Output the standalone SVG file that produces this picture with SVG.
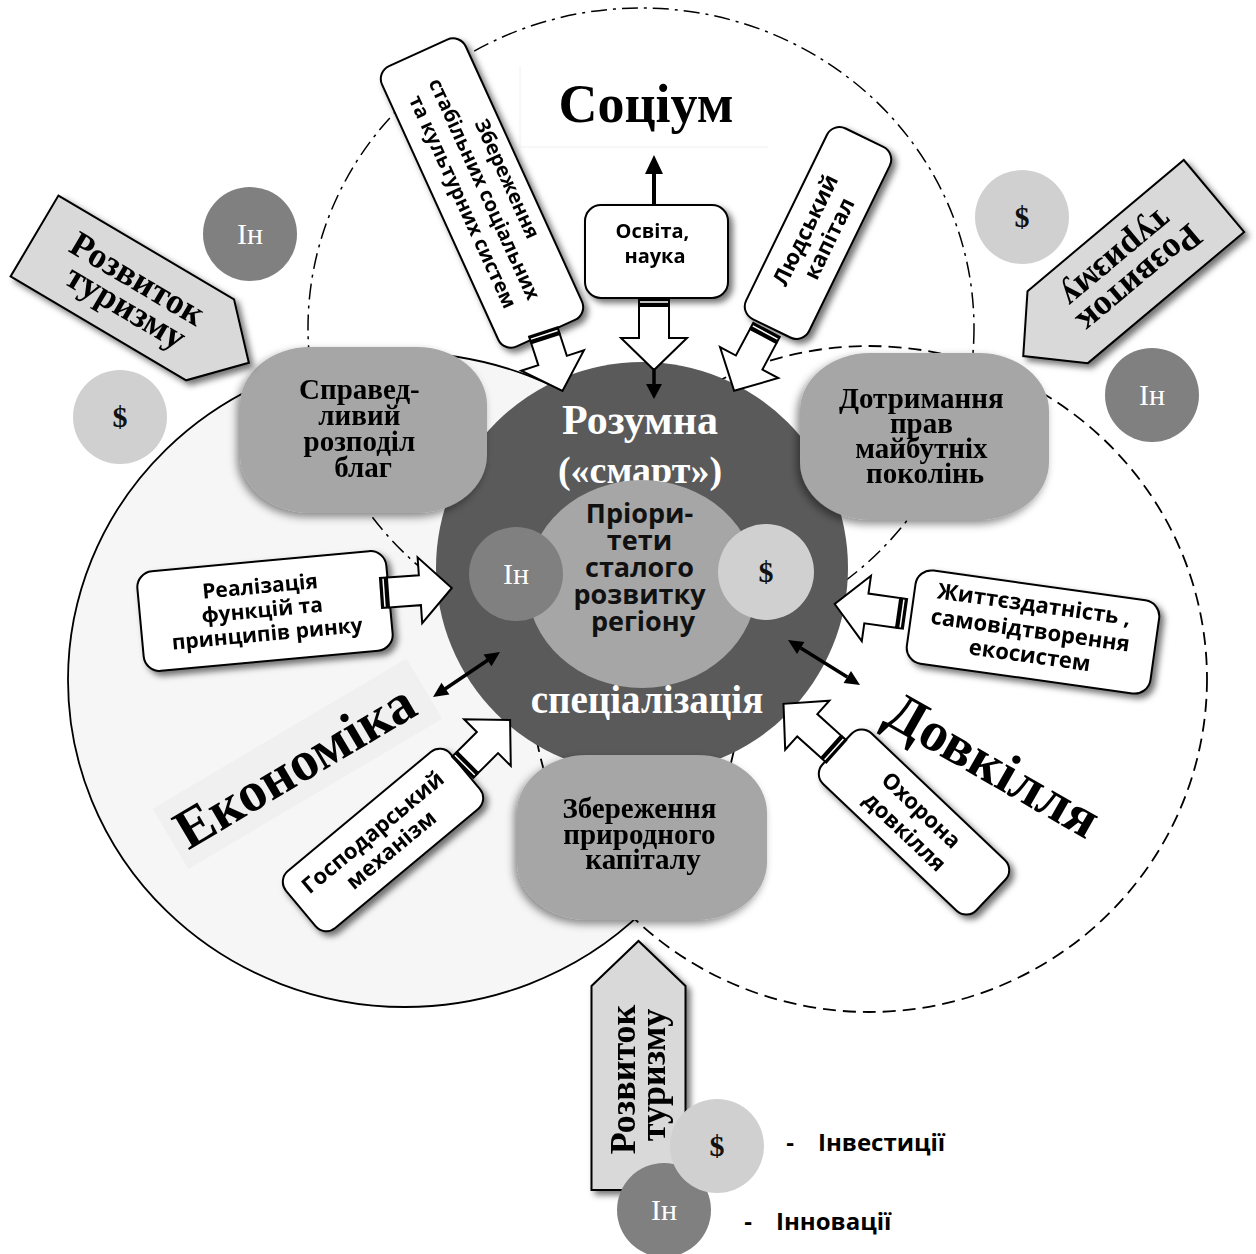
<svg xmlns="http://www.w3.org/2000/svg" width="1256" height="1254" viewBox="0 0 1256 1254">
<defs>
<style>
.sans{font-family:"Open Sans","DejaVu Sans",sans-serif;font-weight:700;}
.serif{font-family:"Liberation Serif","Times New Roman",serif;font-weight:700;}
.serifr{font-family:"Liberation Serif","Times New Roman",serif;font-weight:400;}
.wb{fill:#fff;stroke:#000;stroke-width:2;}
.gb{fill:#a6a6a6;}
.gt{font-size:29px;}
.ha{fill:#fff;stroke:#000;stroke-width:2;stroke-linejoin:miter;}
.ta{fill:#d9d9d9;stroke:#000;stroke-width:2;}
.cin{fill:#808080;}
.cdol{fill:#d0d0d0;}
.tin{fill:#fff;font-size:30px;}
.tdol{fill:#111;font-size:30px;}
</style>
<filter id="sw" x="-20%" y="-20%" width="150%" height="150%">
<feDropShadow dx="4" dy="4" stdDeviation="3" flood-color="#000" flood-opacity="0.55"/>
</filter>
<filter id="sg" x="-20%" y="-20%" width="150%" height="150%">
<feDropShadow dx="-3" dy="4" stdDeviation="4" flood-color="#000" flood-opacity="0.45"/>
</filter>
</defs>
<rect x="0" y="0" width="1256" height="1254" fill="#fff"/>

<g id="regions">
<ellipse id="economy-region" cx="405" cy="680" rx="337" ry="327" fill="#f6f6f6" stroke="#000" stroke-width="1.8"/>
<rect x="-147" y="-35" width="295" height="70" fill="#f0f0f0" transform="translate(297,764) rotate(-30.6)"/>
<ellipse id="society-region" cx="641" cy="328" rx="333" ry="320" fill="none" stroke="#000" stroke-width="1.5" stroke-dasharray="16 6 3 6"/>
<ellipse id="environment-region" cx="869" cy="679" rx="338" ry="333" fill="none" stroke="#000" stroke-width="1.8" stroke-dasharray="13 7"/>
<path d="M520,66 V147 H768" fill="none" stroke="#f0f0f0" stroke-width="1"/>
<text x="646" y="122" class="serif" font-size="54" text-anchor="middle">Соціум</text>
<text class="serif" font-size="56" text-anchor="middle" transform="translate(304,782) rotate(-30.6)">Економіка</text>
<text class="serif" font-size="56" text-anchor="middle" transform="translate(984,781) rotate(29.8)">Довкілля</text>
</g>

<g id="center">
<circle cx="642" cy="568" r="206" fill="#5a5a5a"/>
<text x="640" y="434" class="serif" font-size="42" fill="#fff" text-anchor="middle">Розумна</text>
<text x="640" y="483" class="serif" font-size="38" fill="#fff" text-anchor="middle">(«смарт»)</text>
<ellipse cx="642" cy="584" rx="115" ry="104" fill="#a6a6a6"/>
<text class="sans" font-size="27" text-anchor="middle" fill="#111">
<tspan x="643" y="523">Пріори-</tspan>
<tspan x="643" y="550">тети</tspan>
<tspan x="643" y="577">сталого</tspan>
<tspan x="643" y="604">розвитку</tspan>
<tspan x="643" y="631">регіону</tspan>
</text>
<circle cx="516" cy="574" r="47" class="cin"/>
<text x="516" y="584" class="serifr tin" text-anchor="middle">Ін</text>
<circle cx="766" cy="572" r="48" class="cdol"/>
<text x="766" y="582" class="serif tdol" text-anchor="middle">$</text>
<text x="647" y="713" class="serif" font-size="39" fill="#fff" text-anchor="middle">спеціалізація</text>
</g>

<g id="n-fair" filter="url(#sg)">
<rect x="240" y="347" width="247" height="166" rx="70" ry="58" class="gb"/>
<text class="serif gt" text-anchor="middle">
<tspan x="363" y="399">Справед-</tspan>
<tspan x="363" y="425">ливий</tspan>
<tspan x="363" y="451">розподіл</tspan>
<tspan x="363" y="477">благ</tspan>
</text>
</g>

<g id="n-future" filter="url(#sg)">
<rect x="800" y="353" width="249" height="167" rx="70" ry="58" class="gb"/>
<text class="serif gt" text-anchor="middle">
<tspan x="925" y="408">Дотримання</tspan>
<tspan x="925" y="433">прав</tspan>
<tspan x="925" y="458">майбутніх</tspan>
<tspan x="925" y="483">поколінь</tspan>
</text>
</g>

<g id="n-natural" filter="url(#sg)">
<rect x="517" y="755" width="250" height="165" rx="70" ry="58" class="gb"/>
<text class="serif gt" text-anchor="middle">
<tspan x="643" y="818">Збереження</tspan>
<tspan x="643" y="844">природного</tspan>
<tspan x="643" y="869">капіталу</tspan>
</text>
</g>

<g id="n-soc-systems" filter="url(#sw)">
<g transform="translate(482,193) rotate(65.5)">
<rect class="wb" x="-154" y="-46" width="308" height="92" rx="14"/>
<text class="sans" font-size="20" text-anchor="middle">
<tspan x="0" y="-22">Збереження</tspan>
<tspan x="0" y="3">стабільних соціальних</tspan>
<tspan x="0" y="28">та культурних систем</tspan>
</text>
</g>
</g>

<g id="n-education" filter="url(#sw)">
<rect class="wb" x="585" y="205" width="143" height="93" rx="16"/>
<text class="sans" font-size="20" text-anchor="middle">
<tspan x="655" y="238">Освіта,</tspan>
<tspan x="655" y="263">наука</tspan>
</text>
</g>

<g id="n-human" filter="url(#sw)">
<g transform="translate(818,233) rotate(-64)">
<rect class="wb" x="-106" y="-35" width="212" height="70" rx="14"/>
<text class="sans" font-size="22" text-anchor="middle">
<tspan x="0" y="-5">Людський</tspan>
<tspan x="0" y="20">капітал</tspan>
</text>
</g>
</g>

<g id="n-market" filter="url(#sw)">
<g transform="translate(265,611) rotate(-5.3)">
<rect class="wb" x="-125" y="-50" width="250" height="100" rx="16"/>
<text class="sans" font-size="21" text-anchor="middle">
<tspan x="0" y="-18">Реалізація</tspan>
<tspan x="0" y="6">функцій та</tspan>
<tspan x="0" y="30">принципів ринку</tspan>
</text>
</g>
</g>

<g id="n-mechanism" filter="url(#sw)">
<g transform="translate(383,840) rotate(-39.8)">
<rect class="wb" x="-107" y="-37" width="214" height="74" rx="14"/>
<text class="sans" font-size="22" text-anchor="middle">
<tspan x="0" y="-5">Господарський</tspan>
<tspan x="0" y="20">механізм</tspan>
</text>
</g>
</g>

<g id="n-ecosystems" filter="url(#sw)">
<g transform="translate(1033,632) rotate(8)">
<rect class="wb" x="-123" y="-47" width="246" height="94" rx="16"/>
<text class="sans" font-size="22" text-anchor="middle">
<tspan x="0" y="-20">Життєздатність ,</tspan>
<tspan x="0" y="6">самовідтворення</tspan>
<tspan x="0" y="31">екосистем</tspan>
</text>
</g>
</g>

<g id="n-protection" filter="url(#sw)">
<g transform="translate(914,822) rotate(43.5)">
<rect class="wb" x="-106" y="-35" width="212" height="70" rx="14"/>
<text class="sans" font-size="22" text-anchor="middle">
<tspan x="0" y="-6">Охорона</tspan>
<tspan x="0" y="21">довкілля</tspan>
</text>
</g>
</g>

<g id="n-tourism-left" filter="url(#sw)">
<g transform="translate(34.5,236) rotate(30.6)">
<polygon class="ta" points="0,-47 204,-47 249,0 204,47 0,47"/>
<text class="serif" font-size="36" text-anchor="middle">
<tspan x="115" y="-4">Розвиток</tspan>
<tspan x="115" y="26">туризму</tspan>
</text>
</g>
</g>

<g id="n-tourism-right" filter="url(#sw)">
<g transform="translate(1214,196) rotate(140)">
<polygon class="ta" points="0,-47 204,-47 249,0 204,47 0,47"/>
<text class="serif" font-size="36" text-anchor="middle">
<tspan x="115" y="-4">Розвиток</tspan>
<tspan x="115" y="26">туризму</tspan>
</text>
</g>
</g>

<g id="n-tourism-bottom" filter="url(#sw)">
<g transform="translate(638.5,1190) rotate(-90)">
<polygon class="ta" points="0,-47 204,-47 249,0 204,47 0,47"/>
<text class="serif" font-size="36" text-anchor="middle">
<tspan x="115" y="-4">Розвиток</tspan>
<tspan x="115" y="26">туризму</tspan>
</text>
</g>
</g>

<g id="n-resources">
<circle cx="250" cy="234" r="47" class="cin"/>
<text x="250" y="244" class="serifr tin" text-anchor="middle">Ін</text>
<circle cx="120" cy="417" r="47" class="cdol"/>
<text x="120" y="427" class="serif tdol" text-anchor="middle">$</text>
<circle cx="1022" cy="217" r="47" class="cdol"/>
<text x="1022" y="227" class="serif tdol" text-anchor="middle">$</text>
<circle cx="1152" cy="395" r="47" class="cin"/>
<text x="1152" y="405" class="serifr tin" text-anchor="middle">Ін</text>
</g>

<g id="legend">
<circle cx="664" cy="1210" r="47" class="cin"/>
<text x="664" y="1220" class="serifr tin" text-anchor="middle">Ін</text>
<circle cx="717" cy="1146" r="47" class="cdol"/>
<text x="717" y="1156" class="serif tdol" text-anchor="middle">$</text>
<text x="790" y="1151" class="sans" font-size="24" text-anchor="middle">-</text>
<text x="818" y="1151" class="sans" font-size="24">Інвестиції</text>
<text x="748" y="1230" class="sans" font-size="24" text-anchor="middle">-</text>
<text x="776" y="1230" class="sans" font-size="24">Інновації</text>
</g>

<g id="connectors">
<g transform="translate(543,331) rotate(72)">
<path class="ha" d="M8,-15 H31 V-33 L63,0 L31,33 V15 H8 Z"/>
<rect x="0" y="-16" width="8" height="32" fill="#000"/><line x1="4" y1="-14" x2="4" y2="14" stroke="#fff" stroke-width="1.5"/>
</g>
<g transform="translate(654,298) rotate(90)">
<path class="ha" d="M8,-15 H40 V-33 L72,0 L40,33 V15 H8 Z"/>
<rect x="0" y="-16" width="8" height="32" fill="#000"/><line x1="4" y1="-14" x2="4" y2="14" stroke="#fff" stroke-width="1.5"/>
</g>
<g transform="translate(767,329) rotate(118)">
<path class="ha" d="M8,-15 H38 V-33 L70,0 L38,33 V15 H8 Z"/>
<rect x="0" y="-16" width="8" height="32" fill="#000"/><line x1="4" y1="-14" x2="4" y2="14" stroke="#fff" stroke-width="1.5"/>
</g>
<g transform="translate(380,593) rotate(-4)">
<path class="ha" d="M8,-15 H40 V-33 L72,0 L40,33 V15 H8 Z"/>
<rect x="0" y="-16" width="8" height="32" fill="#000"/><line x1="4" y1="-14" x2="4" y2="14" stroke="#fff" stroke-width="1.5"/>
</g>
<g transform="translate(462,768) rotate(-45)">
<path class="ha" d="M8,-15 H36 V-33 L68,0 L36,33 V15 H8 Z"/>
<rect x="0" y="-16" width="8" height="32" fill="#000"/><line x1="4" y1="-14" x2="4" y2="14" stroke="#fff" stroke-width="1.5"/>
</g>
<g transform="translate(906,614) rotate(188)">
<path class="ha" d="M8,-15 H40 V-33 L72,0 L40,33 V15 H8 Z"/>
<rect x="0" y="-16" width="8" height="32" fill="#000"/><line x1="4" y1="-14" x2="4" y2="14" stroke="#fff" stroke-width="1.5"/>
</g>
<g transform="translate(837,752) rotate(222)">
<path class="ha" d="M8,-15 H40 V-33 L72,0 L40,33 V15 H8 Z"/>
<rect x="0" y="-16" width="8" height="32" fill="#000"/><line x1="4" y1="-14" x2="4" y2="14" stroke="#fff" stroke-width="1.5"/>
</g>
<line x1="654" y1="205" x2="654" y2="172" stroke="#000" stroke-width="4"/>
<polygon points="645,174 663,174 654,155" fill="#000"/>
<line x1="654" y1="368" x2="654" y2="386" stroke="#000" stroke-width="3.5"/>
<polygon points="646,384 662,384 654,399" fill="#000"/>
<line x1="445" y1="689" x2="488" y2="660" stroke="#000" stroke-width="3.5"/>
<polygon points="433,697 449.4,694.4 441.5,682.8" fill="#000"/>
<polygon points="500,652 491.5,666.2 483.6,654.6" fill="#000"/>
<line x1="800.7" y1="648" x2="847.3" y2="677" stroke="#000" stroke-width="3.5"/>
<polygon points="788,640 797,653.9 804.4,642.1" fill="#000"/>
<polygon points="860,685 843.6,682.9 851,671.1" fill="#000"/>
</g>
</svg>
